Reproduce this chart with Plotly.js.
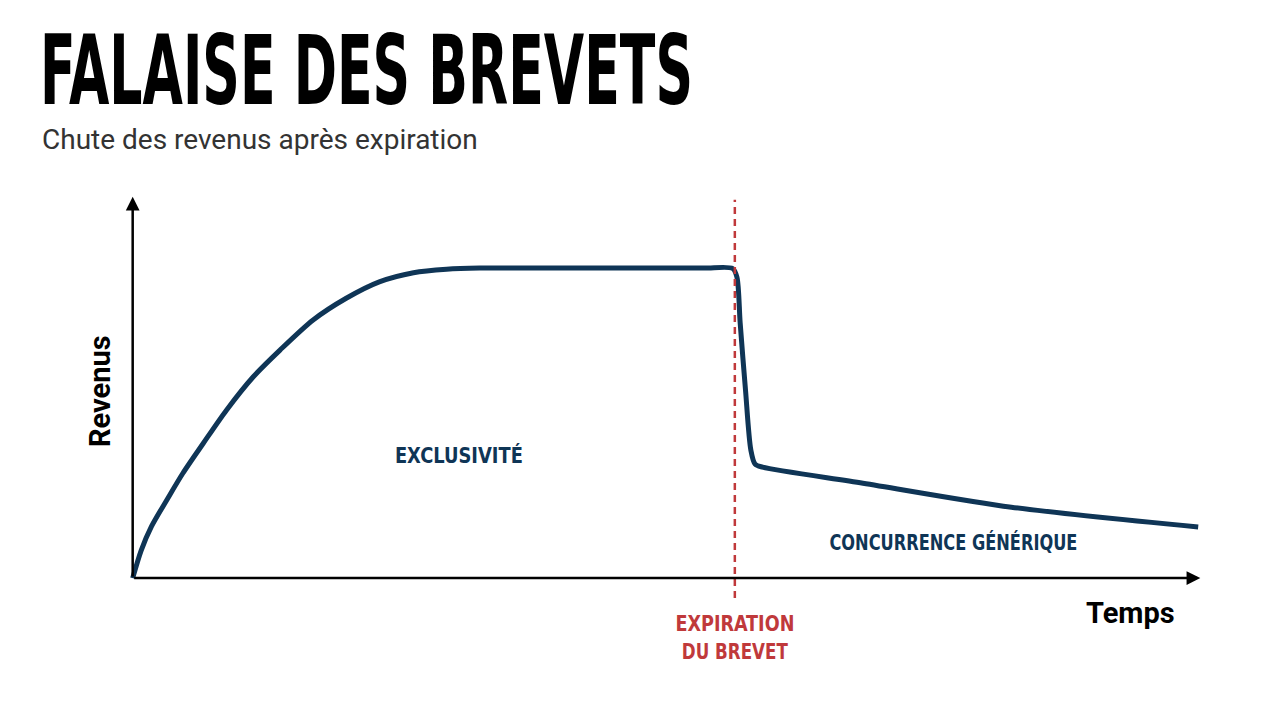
<!DOCTYPE html>
<html>
<head>
<meta charset="utf-8">
<script src="https://cdn.plot.ly/plotly-3.0.1.min.js"></script>
<style>
  html, body { margin: 0; padding: 0; background: #fff; }
  #chart { width: 1280px; height: 702px; }
</style>
</head>
<body>
<div id="chart"></div>
<script>
// time (arbitrary units 0-100) and revenue (0-100)
const temps = [0, 0.8, 1.75, 3.2, 4.7, 6.6, 8.8, 11.3, 13.8, 16.9, 20.0, 23.1, 26.3, 29.4, 32.5, 47.5, 53.5,
               56.2, 56.6, 56.9, 57.4, 57.9, 58.3, 59.0, 68.4, 82.3, 99.8];
const revenus = [0, 7.3, 13.5, 20.5, 27.5, 35.3, 44.1, 52.8, 59.8, 67.7, 73.4, 77.7, 80.1, 81.0, 81.3, 81.3, 81.3,
                 81.2, 78.9, 66.9, 49.3, 33.6, 29.9, 29.1, 24.9, 18.6, 13.4];
const expiration = 56.4;

const titleText = 'FALAISE DES BREVETS';
const subtitleText = 'Chute des revenus après expiration';
const yTitle = 'Revenus';
const xTitle = 'Temps';
const phaseLabels = ['EXCLUSIVITÉ', 'CONCURRENCE GÉNÉRIQUE'];
const cliffLabels = ['EXPIRATION', 'DU BREVET'];

const navy = '#0f3556';
const red = '#c0393b';
const narrow = '"DejaVu Sans Condensed", sans-serif';

// plot area in pixels
const M = { l: 122, r: 69, t: 193, b: 101 };
const W = 1280, H = 702;
const pw = W - M.l - M.r, ph = H - M.t - M.b;
const px = x => (x - M.l) / pw;
const py = y => (H - M.b - y) / ph;

const trace = {
    x: temps,
    y: revenus,
    mode: 'lines',
    line: { color: navy, width: 5, shape: 'spline', smoothing: 0.8 },
    hoverinfo: 'skip',
    cliponaxis: false
};

function arrow(x, y, ax, ay) {
    return {
        x: x, y: y, ax: ax, ay: ay,
        xref: 'x', yref: 'y', axref: 'x', ayref: 'y',
        text: '', showarrow: true,
        arrowhead: 2, arrowsize: 1.1, arrowwidth: 2.5, arrowcolor: '#000'
    };
}

// label placed by its pixel centre; width = wanted rendered width
function label(text, cx, cy, color, size, family, width, extra) {
    return Object.assign({
        x: px(cx), y: py(cy), xref: 'paper', yref: 'paper',
        xanchor: 'center', yanchor: 'middle',
        text: text, showarrow: false,
        font: { family: family, size: size, color: color, weight: 700 },
        name: width ? 'fit' + width : ''
    }, extra || {});
}

const annotations = [
    arrow(100, 0, 0, 0),
    arrow(0, 100, 0, 0),
    {
        xref: 'paper', yref: 'paper', x: px(40), y: py(139),
        xanchor: 'left', yanchor: 'middle', showarrow: false,
        text: subtitleText,
        font: { family: 'Roboto, sans-serif', size: 28, color: '#333' }
    },
    label(phaseLabels[0], 459, 455, navy, 22, narrow, 128),
    label(phaseLabels[1], 953, 542, navy, 22, narrow, 248),
    label(cliffLabels[0], 735, 623, red, 22, narrow, 119),
    label(cliffLabels[1], 735, 651, red, 22, narrow, 106),
    label(xTitle, 1130, 613, '#000', 29, 'Roboto, sans-serif', 0),
    label(yTitle, 100, 391, '#000', 29, 'Roboto, sans-serif', 0, { textangle: -90 })
];

const layout = {
    width: W,
    height: H,
    paper_bgcolor: '#fff',
    plot_bgcolor: '#fff',
    showlegend: false,
    margin: M,
    title: {
        text: titleText,
        x: 40 / W, xanchor: 'left', xref: 'container',
        y: 1 - 37 / H, yanchor: 'top', yref: 'container',
        font: { family: narrow, size: 96, color: '#000', weight: 700 }
    },
    xaxis: { range: [-1, 101], visible: false, fixedrange: true },
    yaxis: { range: [-6, 101], visible: false, fixedrange: true },
    shapes: [{
        type: 'line', xref: 'x', yref: 'y',
        x0: expiration, x1: expiration, y0: -5.2, y1: 99.2,
        line: { color: red, width: 2.5, dash: '7px,5px' }
    }],
    annotations: annotations
};

Plotly.newPlot('chart', [trace], layout, { displayModeBar: false, staticPlot: true }).then(gd => {
    // squeeze the condensed texts to the widths seen in the picture
    const t = gd.querySelector('.gtitle');
    if (t) {
        t.setAttribute('textLength', 653);
        t.setAttribute('lengthAdjust', 'spacingAndGlyphs');
    }
    const groups = gd.querySelectorAll('.annotation');
    groups.forEach((g, i) => {
        const a = annotations[i];
        if (!a || !a.name || a.name.indexOf('fit') !== 0) return;
        const txt = g.querySelector('.annotation-text');
        if (!txt) return;
        txt.setAttribute('textLength', a.name.slice(3));
        txt.setAttribute('lengthAdjust', 'spacingAndGlyphs');
    });
});
</script>
</body>
</html>
